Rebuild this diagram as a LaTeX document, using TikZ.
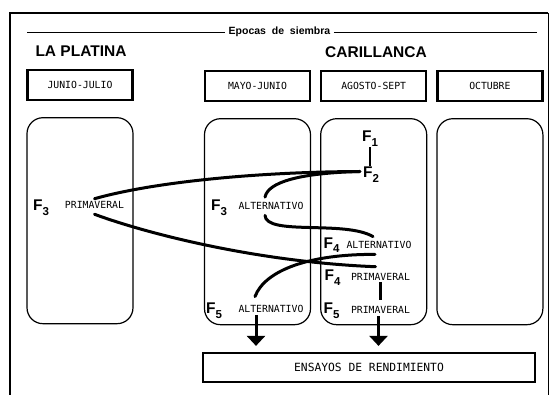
\documentclass[tikz,border=0pt]{standalone}
\usepackage{fontspec}
\setmainfont{Liberation Sans}
\setmonofont{DejaVu Sans Mono}
\usetikzlibrary{arrows.meta,positioning}

\newcommand{\Fn}[1]{F\raisebox{-0.3em}{\fontsize{11.5}{11.5}\selectfont #1}}

\begin{document}
\begin{tikzpicture} [x=1pt,y=-1pt,node distance=16pt and 9pt,
  periodo/.style={draw,line width=2.2pt,minimum width=105pt,minimum height=30pt,font=\ttfamily\fontsize{9.8}{10}\selectfont},
  zona/.style={draw,line width=1.2pt,rounded corners=16pt,minimum width=106pt,minimum height=206pt},
  lugar/.style={font=\bfseries\fontsize{15.5}{16}\selectfont},
  fase/.style={font=\bfseries\fontsize{15.5}{15.5}\selectfont,inner sep=1pt},
  tipo/.style={font=\ttfamily\fontsize{9.8}{10}\selectfont,inner sep=2pt},
  cruce/.style={line width=3pt,line cap=round},
  baja/.style={line width=3pt,-{Triangle[width=18pt,length=10pt]},shorten >=6pt}]

  \useasboundingbox (0,0) rectangle (550,395);

  % frame
  \draw[line width=1.5pt] (10,395) |- (548,13);
  \draw[line width=0.8pt] (548,13) -- (548,395);

  \node (epocas) [font=\bfseries\fontsize{10.5}{11}\selectfont] at (279.5,32) {Epocas\ \ de\ \ siembra};
  \draw[line width=0.8pt] (27,32) -- (epocas.west);
  \draw[line width=0.8pt] (epocas.east) -- (537,32);

  \node (platina) [lugar] at (81,51) {LA PLATINA};
  \node (carillanca) [lugar] at (376,52) {CARILLANCA};

  \node (junjul) [periodo] at (80,85) {JUNIO-JULIO};
  \node (mayjun) [periodo] at (257.5,86) {MAYO-JUNIO};
  \node (agosep) [periodo,right=of mayjun] {AGOSTO-SEPT};
  \node (octubre) [periodo,right=of agosep] {OCTUBRE};

  \node (zplatina) [zona,below=of junjul] {};
  \node (zmayo) [zona,below=of mayjun] {};
  \node (zagosto) [zona,below=of agosep] {};
  \node (zoctubre) [zona,below=of octubre] {};

  \node (ensayos) [periodo,minimum width=332pt,minimum height=29pt,font=\ttfamily\fontsize{11.3}{12}\selectfont] at (369,367.5) {ENSAYOS DE RENDIMIENTO};

  % generaciones
  \node (f3a) [fase] at (41,207.5) {\Fn{3}};
  \node (pri3) [tipo] at (94.5,204.5) {PRIMAVERAL};
  \node (f3b) [fase] at (219,208) {\Fn{3}};
  \node (alt3) [tipo] at (271,206) {ALTERNATIVO};
  \node (f5a) [fase] at (214,311) {\Fn{5}};
  \node (alt5) [tipo] at (271,309) {ALTERNATIVO};
  \node (f1) [fase] at (370,138.5) {\Fn{1}};
  \node (f2) [fase] at (371,174.5) {\Fn{2}};
  \node (f4a) [fase] at (331.5,245) {\Fn{4}};
  \node (alt4) [tipo] at (379,244.5) {ALTERNATIVO};
  \node (f4b) [fase] at (332.5,277.5) {\Fn{4}};
  \node (pri4) [tipo] at (380.5,276.5) {PRIMAVERAL};
  \node (f5b) [fase] at (331.5,311) {\Fn{5}};
  \node (pri5) [tipo] at (380.5,310) {PRIMAVERAL};

  \draw[cruce] (pri3.north) .. controls (150,183) and (250,172) .. ([xshift=-2pt,yshift=3pt]f2.west);
  \draw[cruce] ([yshift=-4pt]pri3.south) .. controls (148,234) and (258,262) .. ([xshift=-5pt,yshift=4pt]pri4.north);
  \draw[cruce] ([xshift=-6pt,yshift=3pt]alt3.north) .. controls (268,182) and (300,173) .. ([xshift=-2pt,yshift=3pt]f2.west);
  \draw[cruce] ([xshift=-6pt,yshift=-3.5pt]alt3.south) .. controls (266,236) and (345,220) .. ([xshift=-6pt,yshift=2pt]alt4.north);
  \draw[cruce] ([xshift=-16pt,yshift=6.5pt]alt5.north) .. controls (265,270) and (310,254) .. ([xshift=-4pt,yshift=-4pt]alt4.south);

  \draw[line width=2.5pt] (f1.south) -- (f1.south |- f2.north);
  \draw[line width=2.5pt,shorten >=4pt] (pri4.south) -- (pri5.north);

  \draw[baja] ([xshift=-15pt]alt5.south) -- ([xshift=-15pt]alt5.south |- ensayos.north);
  \draw[baja] ([xshift=-2pt]pri5.south) -- ([xshift=-2pt]pri5.south |- ensayos.north);

\end{tikzpicture}
\end{document}
